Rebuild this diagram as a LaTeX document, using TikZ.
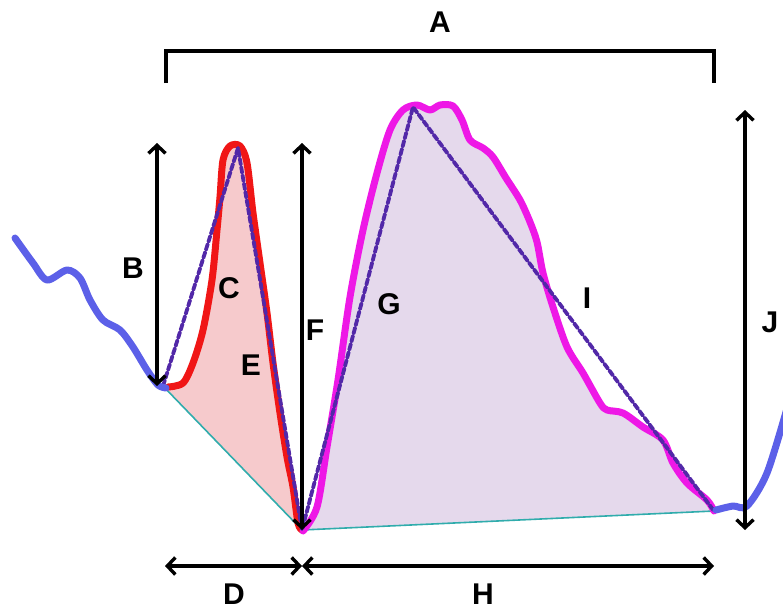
\documentclass[tikz,border=0pt]{standalone}
\usepackage{fontspec}
\setmainfont{Liberation Sans}
\usepackage{tikz}
\usetikzlibrary{arrows.meta,calc}
\definecolor{trace}{RGB}{92,96,232}
\definecolor{peaka}{RGB}{240,22,22}
\definecolor{peakb}{RGB}{238,24,230}
\definecolor{chord}{RGB}{82,40,168}
\definecolor{base}{RGB}{48,172,172}
\definecolor{filla}{RGB}{246,202,204}
\definecolor{fillb}{RGB}{229,217,236}

\tikzset{
  dimarrow/.style={{Straight Barb[length=8pt,width=17pt]}-{Straight Barb[length=8pt,width=17pt]},line width=3.4pt,black},
  chordline/.style={chord,line width=3.8pt,dash pattern=on 6pt off 2.4pt},
  lbl/.style={font=\fontsize{30}{30}\selectfont\bfseries,inner sep=0pt}
}

\begin{document}
\begin{tikzpicture}[x=1pt,y=-1pt,line join=round,line cap=round]
    \useasboundingbox (0,0) rectangle (783,611);
    % troughs and peaks
    \coordinate (t1) at (163,386);
    \coordinate (p1) at (238,148);
    \coordinate (t2) at (302,530);
    \coordinate (p2) at (413,107);
    \coordinate (t3) at (714,511);
    % shaded areas
    \fill[filla] plot[smooth] coordinates {(168,387) (183,383) (193,363) (203,330) (212,280) (217,230)
      (220,197) (223,160) (230,146) (240,146) (247,163) (253,213) (260,263) (267,313) (273,363)
      (280,413) (287,457) (293,487) (298,523) (302,530)} -- (t2) -- (t1) -- cycle;
    \fill[fillb] plot[smooth] coordinates {(303,531) (317,507) (327,447) (338,380) (350,297) (363,230)
      (377,173) (390,130) (403,110) (417,105) (430,110) (440,105) (453,106) (462,120) (470,140)
      (483,148) (493,157) (506,178) (520,200) (530,222) (537,242) (543,273) (553,307) (567,347)
      (583,373) (600,403) (607,410) (623,413) (643,427) (663,440) (673,463) (687,483) (707,500)
      (714,511)} -- (t3) -- (t2) -- cycle;
    \draw[base,line width=1.6pt] (t1) -- (t2) -- (t3);
    % peak outlines
    \draw[peaka,line width=7pt] plot[smooth] coordinates {(168,387) (183,383) (193,363) (203,330)
      (212,280) (217,230) (220,197) (223,160) (230,146) (240,146) (247,163) (253,213) (260,263)
      (267,313) (273,363) (280,413) (287,457) (293,487) (298,523) (302,530)};
    \draw[peakb,line width=7pt] plot[smooth] coordinates {(303,531) (317,507) (327,447) (338,380)
      (350,297) (363,230) (377,173) (390,130) (403,110) (417,105) (430,110) (440,105) (453,106)
      (462,120) (470,140) (483,148) (493,157) (506,178) (520,200) (530,222) (537,242) (543,273)
      (553,307) (567,347) (583,373) (600,403) (607,410) (623,413) (643,427) (663,440) (673,463)
      (687,483) (707,500) (714,511)};
    \draw[chordline] (t1) -- (p1) -- (t2) -- (p2) -- (t3);
    % baseline trace
    \draw[trace,line width=7pt] plot[smooth] coordinates {(15,238) (33,263) (47,280) (67,270)
      (80,278) (90,300) (103,320) (120,330) (133,347) (147,370) (158,385) (166,388)};
    \draw[trace,line width=7pt] plot[smooth] coordinates {(716,510) (733,506) (747,506) (767,473)
      (788,405)};
    % dimensions
    \coordinate (a1) at (166,83);
    \coordinate (a2) at (714,83);
    \draw[line width=3.6pt,line cap=butt,line join=miter] (a1) -- ++(0,-32) -| (a2);
    \coordinate (bt) at (157,143);
    \coordinate (bb) at (157,386);
    \draw[dimarrow] (bt) -- (bb);
    \coordinate (ft) at (302,143);
    \draw[dimarrow] (ft) -- (t2);
    \coordinate (jt) at (745,110);
    \coordinate (jb) at (745,530);
    \draw[dimarrow] (jt) -- (jb);
    \coordinate (dl) at (165,566);
    \coordinate (dm) at (302,566);
    \coordinate (hr) at (714,566);
    \draw[dimarrow] (dl) -- (dm);
    \draw[dimarrow] (dm) -- (hr);
    % letters
    \foreach \nm/\x/\y in {A/440/22, B/133/268, C/229/288, D/234/594, E/251/365,
      F/315/330, G/389/304, H/483/594, I/587/298, J/770/322}{
      \node[lbl] (lbl\nm) at (\x,\y) {\nm};
    }
  \end{tikzpicture}
\end{document}
